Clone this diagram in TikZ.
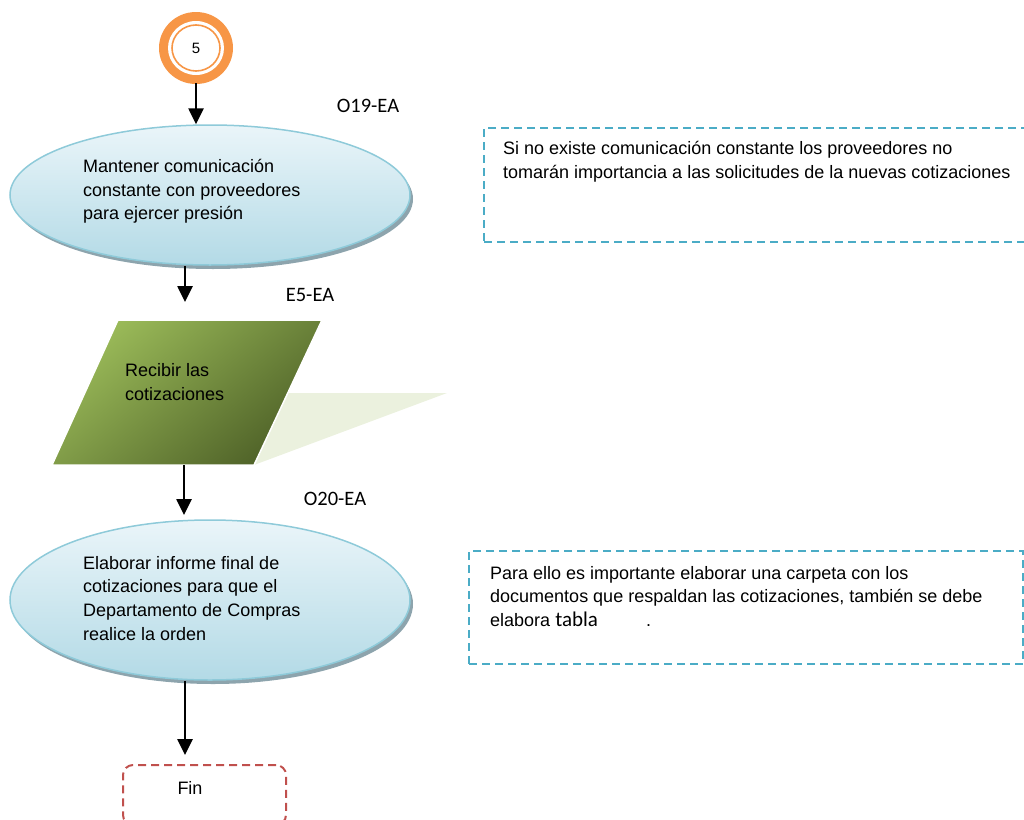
\documentclass[tikz,border=0pt]{standalone}
\usepackage{fontspec}
\setmainfont{Liberation Sans}
\newfontfamily\calib{Carlito}
\usetikzlibrary{arrows.meta,shapes.geometric}
\definecolor{ringorange}{HTML}{F79646}
\definecolor{ellline}{HTML}{8ECAD9}
\definecolor{elltop}{HTML}{EAF5F9}
\definecolor{ellbot}{HTML}{B3DAE6}
\definecolor{ellshadow}{HTML}{8DA4AD}
\definecolor{greenlight}{HTML}{9BBB59}
\definecolor{greendark}{HTML}{4F6228}
\definecolor{greenshadow}{HTML}{EBF1DE}
\definecolor{noteblue}{HTML}{4BACC6}
\definecolor{finred}{HTML}{C0504D}
\tikzset{
  arr/.style={line width=2.6pt,-{Triangle[width=15pt,length=16pt]}},
  procell/.style={ellipse,draw=ellline,line width=1.5pt,top color=elltop,bottom color=ellbot,
    minimum width=400pt,minimum height=#1},
  shadowell/.style={ellipse,fill=ellshadow,minimum width=400pt,minimum height=#1},
  bodytext/.style={anchor=north west,align=left,inner sep=0pt,font=\fontsize{18}{23.7}\selectfont},
  codelabel/.style={anchor=center,inner sep=0pt,font=\calib\fontsize{20.5}{22}\selectfont},
  notebox/.style={draw=noteblue,line width=2pt,dash pattern=on 8pt off 5pt},
  finbox/.style={draw=finred,line width=2pt,dash pattern=on 8pt off 5pt,rounded corners=10pt}
}
\begin{document}
\begin{tikzpicture}[x=1pt,y=-1pt]
\useasboundingbox (0,0) rectangle (1024,819);
\clip (0,0) rectangle (1024,819);

% connector "5"
\fill[ringorange] (196,48) ellipse [x radius=37,y radius=36];
\fill[white] (196,48) ellipse [x radius=28,y radius=27];
\draw[ringorange,line width=1.6pt] (196,48) ellipse [x radius=24,y radius=23];
\node[circle,minimum size=70pt,inner sep=0pt,font=\fontsize{15}{16}\selectfont] (c5) at (196,48) {5};

% first activity
\node[shadowell=140pt] (e1s) at (213,199) {};
\node[procell=140pt] (e1) at (210,195) {};
\node[bodytext] (t1) at (83,159) {Mantener comunicación\\constante con proveedores\\para ejercer presión};
\node[codelabel] (l1) at (368,106) {O19-EA};

% input / output step
\fill[greenshadow] (140,393) -- (447,393) -- (254,465) -- (52,465) -- cycle;
\coordinate (pTL) at (118,320);
\coordinate (pTR) at (322,320);
\coordinate (pBR) at (254,465);
\coordinate (pBL) at (52,465);
\shade[top color=greenlight,bottom color=greendark,shading angle=40,draw=white,line width=1.5pt]
  (pTL) -- (pTR) -- (pBR) -- (pBL) -- cycle;
\node[bodytext] (t2) at (125,363.5) {Recibir las\\cotizaciones};
\node[codelabel] (l2) at (310,295) {E5-EA};

% second activity
\node[shadowell=160pt] (e2s) at (213,604) {};
\node[procell=160pt] (e2) at (210,600) {};
\node[bodytext] (t3) at (83,556) {Elaborar informe final de\\cotizaciones para que el\\Departamento de Compras\\realice la orden};
\node[codelabel] (l3) at (335,499) {O20-EA};

% end
\node[finbox,minimum width=163pt,minimum height=60pt] (fin) at (204.5,795) {};
\node[inner sep=0pt,font=\fontsize{18}{20}\selectfont] (fint) at (190,788) {Fin};

% notes
\node[notebox,anchor=north west,minimum width=560pt,minimum height=114pt] (n1) at (483,127) {};
\node[bodytext] (n1t) at (503,141) {Si no existe comunicación constante los proveedores no\\tomarán importancia a las solicitudes de la nuevas cotizaciones};
\node[notebox,anchor=north west,minimum width=554pt,minimum height=113pt] (n2) at (468,550) {};
\node[bodytext] (n2t) at (490,566) {Para ello es importante elaborar una carpeta con los\\documentos que respaldan las cotizaciones, también se debe\\elabora {\calib\fontsize{21}{22}\selectfont tabla}\hspace{48pt}.};

% connectors
\coordinate (a2) at (185,302);
\coordinate (a3) at (184,515);
\coordinate (a4) at (185,755);
\draw[arr] (c5.south) -- (c5.south |- e1.north);
\draw[arr] (e1.south -| a2) -- (a2);
\draw[arr] (pBL -| a3) -- (a3);
\draw[arr] (e2.south -| a4) -- (a4);
\end{tikzpicture}
\end{document}
